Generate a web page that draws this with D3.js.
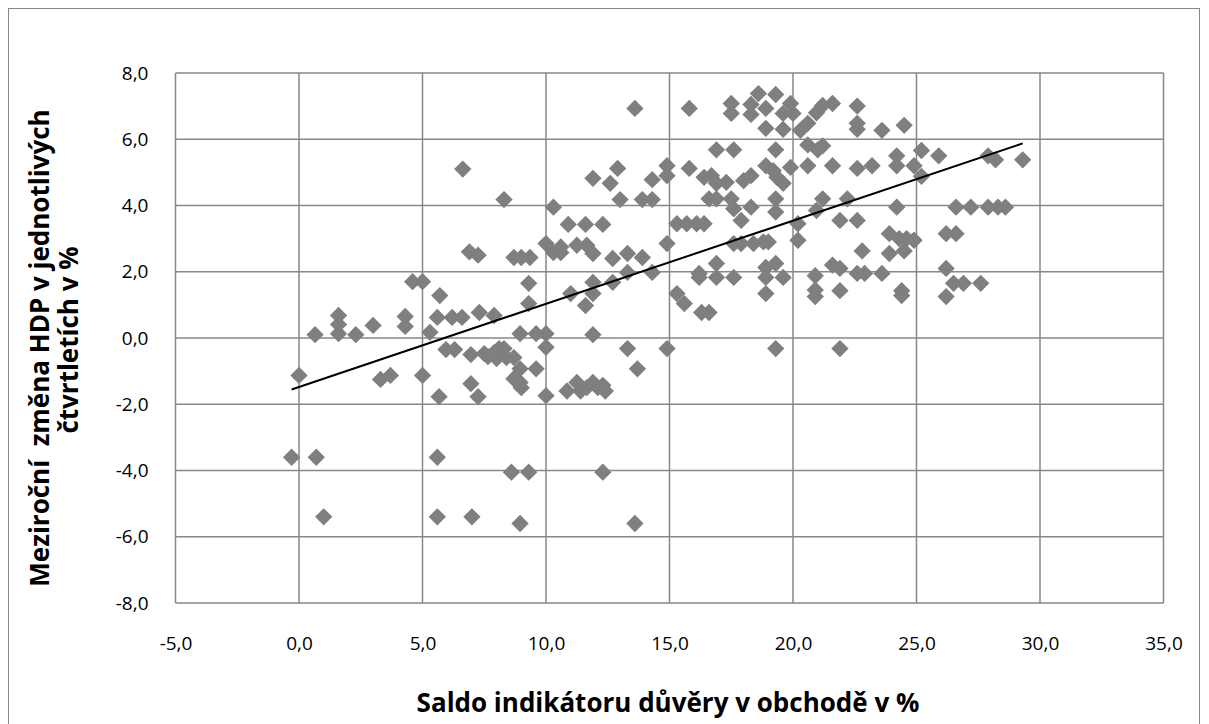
<!DOCTYPE html>
<html><head><meta charset="utf-8">
<script src="https://cdn.jsdelivr.net/npm/d3@7"></script>
<style>body{margin:0;background:#fff}svg{display:block}text{font-family:"Open Sans",sans-serif;white-space:pre}</style>
</head><body><svg id="c" width="1209" height="724"></svg>
<script>
const xTicks=[-5,0,5,10,15,20,25,30,35];
const yTicks=[-8,-6,-4,-2,0,2,4,6,8];
const xTitle="Saldo indikátoru důvěry v obchodě v %";
const yTitle1="Meziroční  změna HDP v jednotlivých";
const yTitle2="čtvrtletích v %";
const xVals=[-0.3,0.7,1.0,5.6,5.6,7.0,8.6,9.3,12.3,8.95,13.6,
0.0,0.65,1.6,1.6,1.6,2.3,3.0,4.3,4.3,4.6,5.0,5.7,5.3,5.6,6.2,6.6,7.3,3.3,3.7,5.0,5.95,6.3,6.96,5.67,6.96,7.25,6.9,7.25,6.63,
8.7,9.0,9.35,10.3,10.6,11.9,12.7,13.3,13.9,14.3,13.3,9.3,11.9,12.7,11.0,11.9,11.6,9.3,7.9,15.3,15.6,8.95,9.6,10.0,11.9,10.0,13.3,14.9,13.7,7.5,7.9,8.1,8.3,8.4,8.7,8.0,7.65,8.95,8.7,8.95,9.0,9.6,10.0,10.85,11.25,11.4,11.9,12.1,12.3,12.4,11.65,
13.6,15.8,8.3,10.3,11.9,12.6,12.9,13.0,13.9,14.3,14.3,14.9,14.9,15.8,10.9,11.6,12.3,15.3,15.7,14.9,10.0,10.6,11.25,11.65,
17.5,17.5,18.6,19.3,18.3,18.3,18.9,19.6,19.9,20.0,18.9,19.6,20.3,20.6,20.95,21.2,21.6,22.6,22.6,22.6,23.6,24.5,
16.9,17.6,19.3,20.6,21.0,21.2,16.4,16.7,16.9,17.3,18.0,18.3,18.9,19.2,19.35,19.6,19.9,20.6,21.6,22.6,23.2,24.2,24.2,
16.6,16.9,17.5,17.6,17.9,18.3,19.3,19.3,21.2,22.2,16.1,16.4,20.2,20.95,21.9,22.6,24.2,23.9,24.3,17.6,17.9,18.4,18.8,19.0,20.2,22.8,
25.2,25.9,24.9,25.2,27.9,28.2,29.3,26.6,27.2,27.9,28.3,28.6,26.2,26.6,24.6,24.9,24.5,
26.2,26.5,26.9,27.6,26.2,24.4,24.4,
23.9,16.2,16.2,16.9,16.9,17.6,18.9,19.3,18.9,19.6,18.9,16.3,16.6,19.3,21.9,20.9,20.9,20.9,21.6,21.9,21.9,22.6,22.9,23.6];
const yVals=[-3.6,-3.6,-5.4,-3.6,-5.4,-5.4,-4.05,-4.05,-4.05,-5.6,-5.6,
-1.13,0.1,0.68,0.41,0.13,0.1,0.38,0.65,0.35,1.7,1.7,1.28,0.17,0.62,0.62,0.62,0.77,-1.25,-1.13,-1.13,-0.35,-0.35,-0.5,-1.77,-1.38,-1.77,2.6,2.5,5.1,
2.43,2.43,2.43,2.58,2.58,2.55,2.4,2.55,2.43,1.98,1.98,1.65,1.68,1.68,1.34,1.34,0.98,1.04,0.68,1.34,1.04,0.13,0.13,0.13,0.1,-0.28,-0.32,-0.32,-0.93,-0.47,-0.44,-0.32,-0.32,-0.59,-0.59,-0.62,-0.56,-0.93,-1.23,-1.34,-1.5,-0.93,-1.74,-1.6,-1.34,-1.6,-1.34,-1.5,-1.43,-1.6,-1.5,
6.93,6.93,4.18,3.95,4.82,4.67,5.12,4.18,4.18,4.18,4.78,5.2,4.9,5.12,3.43,3.43,3.43,3.45,3.45,2.85,2.85,2.75,2.8,2.8,
7.08,6.78,7.38,7.35,7.05,6.75,6.93,6.78,7.08,6.78,6.33,6.3,6.27,6.48,6.8,7.02,7.08,7.0,6.48,6.3,6.27,6.42,
5.68,5.68,5.68,5.83,5.68,5.8,4.85,4.9,4.67,4.7,4.75,4.9,5.2,5.05,4.85,4.67,5.15,5.2,5.2,5.12,5.2,5.5,5.2,
4.2,4.2,4.2,3.9,3.55,3.95,4.2,3.8,4.2,4.2,3.45,3.45,3.45,3.85,3.55,3.55,3.95,3.15,3.0,2.85,2.85,2.85,2.9,2.9,2.95,2.63,
5.66,5.5,5.2,4.88,5.5,5.38,5.38,3.95,3.95,3.95,3.95,3.95,3.15,3.15,3.0,2.95,2.63,
2.1,1.65,1.65,1.65,1.25,1.43,1.28,
2.55,1.95,1.83,2.25,1.83,1.83,2.13,2.25,1.83,1.83,1.34,0.77,0.77,-0.32,-0.32,1.88,1.45,1.25,2.2,2.1,1.43,1.95,1.95,1.95];

const svg=d3.select("#c");
svg.append("rect").attr("x",8.5).attr("y",8.5).attr("width",1191).attr("height",730).attr("fill","#fff").attr("stroke","#868686").attr("stroke-width",1);
const x=d3.scaleLinear().domain([-5,35]).range([175.5,1163.5]);
const y=d3.scaleLinear().domain([-8,8]).range([603,73]);
const grid="#878787";
const g=svg.append("g");
g.selectAll(".vg").data(xTicks).join("line").attr("x1",d=>x(d)).attr("x2",d=>x(d)).attr("y1",y(8)).attr("y2",y(-8)).attr("stroke",grid).attr("stroke-width",1.5);
g.selectAll(".hg").data(yTicks).join("line").attr("x1",x(-5)).attr("x2",x(35)).attr("y1",d=>y(d)).attr("y2",d=>y(d)).attr("stroke",grid).attr("stroke-width",1.5);
const fmt=d=>d3.format(".1f")(d).replace(".",",").replace("\u2212","-");
const xa=svg.append("g").attr("transform",`translate(0,${y(-8)})`).call(d3.axisBottom(x).tickValues(xTicks).tickFormat(fmt).tickSize(0).tickPadding(34));
const ya=svg.append("g").attr("transform",`translate(${x(-5)},0)`).call(d3.axisLeft(y).tickValues(yTicks).tickFormat(fmt).tickSize(0).tickPadding(27));
[xa,ya].forEach(a=>{a.select(".domain").remove();a.selectAll("text").attr("font-size",19).attr("fill","#000").style("font-family","'Open Sans',sans-serif");});
const pts=xVals.map((v,i)=>[v,yVals[i]]);
const diamond=d3.symbol().type(d3.symbolSquare).size(150);
svg.append("g").selectAll("path").data(pts).join("path")
 .attr("d",diamond).attr("transform",d=>`translate(${x(d[0])},${y(d[1])}) rotate(45)`).attr("fill","#7f7f7f");
const mx=d3.mean(xVals),my=d3.mean(yVals);
let sxy=0,sxx=0;pts.forEach(([a,b])=>{sxy+=(a-mx)*(b-my);sxx+=(a-mx)*(a-mx);});
const slope=sxy/sxx,icpt=my-slope*mx;
const [x0,x1]=d3.extent(xVals);
svg.append("line").attr("x1",x(x0)).attr("y1",y(icpt+slope*x0)).attr("x2",x(x1)).attr("y2",y(icpt+slope*x1)).attr("stroke","#000").attr("stroke-width",2);
svg.append("text").attr("x",668).attr("y",712).attr("text-anchor","middle").attr("font-weight","bold").attr("font-size",26).text(xTitle);
svg.append("text").attr("transform","translate(49,348) rotate(-90)").attr("text-anchor","middle").attr("font-weight","bold").attr("font-size",26).text(yTitle1);
svg.append("text").attr("transform","translate(78,340) rotate(-90)").attr("text-anchor","middle").attr("font-weight","bold").attr("font-size",26).text(yTitle2);
</script></body></html>
